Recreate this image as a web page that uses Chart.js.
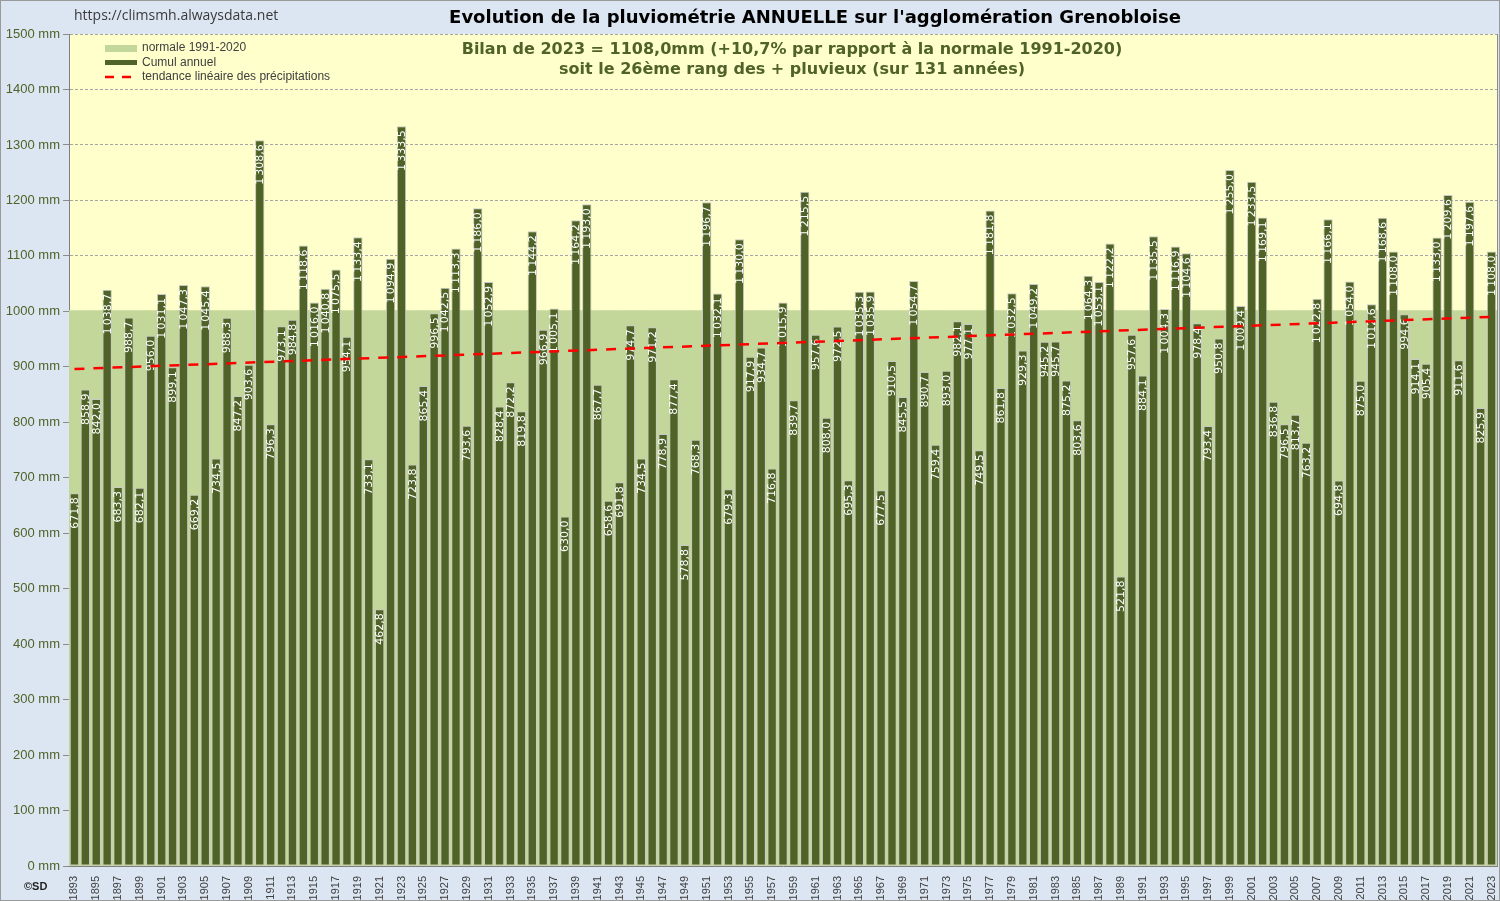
<!DOCTYPE html>
<html>
<head>
<meta charset="utf-8">
<script src="https://cdn.jsdelivr.net/npm/chart.js@4"></script>
<style>
  html, body { margin: 0; padding: 0; background: #ffffff; }
  #wrap { width: 1500px; height: 901px; }
</style>
</head>
<body>
<div id="wrap"><canvas id="myChart" width="1500" height="901"></canvas></div>
<script>
// annual rainfall at Grenoble, mm
var firstYear = 1893;
var lastYear = 2023;
var cumul = [
  671.8, 858.9, 842.0, 1038.7, 683.3, 988.7, 682.1, 956.0, 1031.1, 899.1,
  1047.3, 669.2, 1045.4, 734.5, 988.3, 847.2, 903.6, 1308.6, 796.3, 973.1,
  984.8, 1118.6, 1016.0, 1040.8, 1075.5, 954.1, 1133.4, 733.1, 462.8, 1094.9,
  1333.5, 723.8, 865.4, 996.5, 1042.5, 1113.3, 793.6, 1186.0, 1052.9, 828.4,
  872.2, 819.8, 1144.2, 966.9, 1005.1, 630.0, 1164.2, 1193.0, 867.7, 658.6,
  691.8, 974.7, 734.5, 971.2, 778.9, 877.4, 578.8, 768.3, 1196.7, 1032.1,
  679.3, 1130.0, 917.9, 934.7, 716.8, 1015.9, 839.7, 1215.5, 957.6, 808.0,
  972.5, 695.3, 1035.3, 1035.9, 677.5, 910.5, 845.5, 1054.7, 890.7, 759.4,
  893.0, 982.1, 977.1, 749.5, 1181.8, 861.8, 1032.5, 929.3, 1049.2, 945.2,
  945.7, 875.2, 803.6, 1064.3, 1053.1, 1122.2, 521.8, 957.6, 884.1, 1135.5,
  1004.3, 1116.9, 1104.6, 978.4, 793.4, 950.8, 1255.0, 1009.4, 1233.5, 1169.1,
  836.8, 796.5, 813.7, 763.2, 1022.8, 1166.1, 694.8, 1054.0, 875.0, 1012.6,
  1168.6, 1108.0, 994.6, 914.1, 905.4, 1133.0, 1209.6, 911.6, 1197.6, 825.9,
  1108.0
];
var normale = 1000.9;      // normale 1991-2020
var trendStart = 896;      // tendance en 1893
var trendEnd = 990;        // tendance en 2023
var yTicks = [0, 100, 200, 300, 400, 500, 600, 700, 800, 900, 1000, 1100, 1200, 1300, 1400, 1500];

var titleText = "Evolution de la pluviométrie ANNUELLE sur l'agglomération Grenobloise";
var siteText = "https://climsmh.alwaysdata.net";
var bilan1 = "Bilan de 2023 = 1108,0mm (+10,7% par rapport à la normale 1991-2020)";
var bilan2 = "soit le 26ème rang des + pluvieux (sur 131 années)";

var years = [];
for (var y = firstYear; y <= lastYear; y++) years.push(String(y));
var normalData = years.map(function () { return normale; });
var trendData = years.map(function (y, i) {
  if (i == 0) return trendStart;
  if (i == years.length - 1) return trendEnd;
  return null;
});

function fmt(v) {
  var s = v.toFixed(1).replace(".", ",");
  if (v >= 1000) s = s.slice(0, 1) + "\u2009" + s.slice(1);
  return s;
}

var olive = "#4F6228";
var lightGreen = "#C4D79B";

// background: blue-grey frame + yellow plot area
var bgPlugin = {
  id: "bg",
  beforeDraw: function (chart) {
    var c = chart.ctx, a = chart.chartArea;
    c.save();
    c.fillStyle = "#DCE6F2";
    c.fillRect(0, 0, chart.width, chart.height);
    c.strokeStyle = "#9A9A9A";
    c.lineWidth = 1;
    c.strokeRect(0.5, 0.5, chart.width - 1, chart.height - 1);
    c.fillStyle = "#FFFFCC";
    c.fillRect(a.left, a.top, a.right - a.left, a.bottom - a.top);
    c.restore();
  },
  afterDraw: function (chart) {
    var c = chart.ctx, a = chart.chartArea;
    c.save();
    // right frame
    c.strokeStyle = "#8C8C8C";
    c.beginPath();
    c.moveTo(a.right + 0.5, a.top);
    c.lineTo(a.right + 0.5, a.bottom);
    c.stroke();
    // header texts
    c.textBaseline = "middle";
    c.fillStyle = "#3A3A3A";
    c.font = "14px 'Open Sans'";
    c.textAlign = "left";
    c.fillText(siteText, 74, 16);
    c.fillStyle = "#000000";
    c.font = "bold 18px 'DejaVu Sans'";
    c.textAlign = "center";
    c.fillText(titleText, 815, 18);
    // bilan
    c.fillStyle = olive;
    c.font = "bold 16px 'DejaVu Sans'";
    c.fillText(bilan1, 792, 50);
    c.fillText(bilan2, 792, 70);
    // legend
    c.textAlign = "left";
    c.font = "12px 'Liberation Sans Narrow', 'Liberation Sans'";
    c.fillStyle = lightGreen;
    c.fillRect(105, 45, 32, 7);
    c.fillStyle = olive;
    c.fillRect(105, 60, 32, 5);
    c.strokeStyle = "#FF0000";
    c.lineWidth = 2.5;
    c.setLineDash([9, 8]);
    c.beginPath();
    c.moveTo(105, 77);
    c.lineTo(138, 77);
    c.stroke();
    c.setLineDash([]);
    c.fillStyle = "#404040";
    c.fillText("normale 1991-2020", 142, 48);
    c.fillText("Cumul annuel", 142, 63);
    c.fillText("tendance linéaire des précipitations", 142, 77);
    // credit
    c.font = "bold 11px 'Liberation Sans Narrow', 'Liberation Sans'";
    c.fillStyle = "#1F1F1F";
    c.fillText("©SD", 24, 887);
    c.restore();
  }
};

// vertical value labels inside the bars, under the trend line
var labelPlugin = {
  id: "barLabels",
  afterDatasetDraw: function (chart, args) {
    if (args.index != 1) return;
    var c = chart.ctx;
    c.save();
    c.fillStyle = "#FFFFFF";
    c.font = "11px 'DejaVu Sans'";
    c.textAlign = "right";
    c.textBaseline = "middle";
    args.meta.data.forEach(function (bar, i) {
      c.save();
      c.translate(bar.x + 0.5, bar.y + 4);
      c.rotate(-Math.PI / 2);
      c.fillText(fmt(cumul[i]), 0, 0);
      c.restore();
    });
    c.restore();
  }
};

var ctx = document.getElementById("myChart").getContext("2d");
var myChart = new Chart(ctx, {
  type: "bar",
  data: {
    labels: years,
    datasets: [
      {
        type: "line",
        label: "tendance linéaire des précipitations",
        data: trendData,
        borderColor: "#FF0000",
        borderWidth: 2.5,
        borderDash: [10, 9],
        pointRadius: 0,
        spanGaps: true,
        fill: false,
        order: 1
      },
      {
        label: "Cumul annuel",
        data: cumul,
        backgroundColor: olive,
        borderColor: "#C8C8C8",
        borderWidth: 1,
        borderSkipped: false,
        barPercentage: 0.86,
        categoryPercentage: 1,
        grouped: false,
        order: 2
      },
      {
        label: "normale 1991-2020",
        data: normalData,
        backgroundColor: lightGreen,
        borderWidth: 0,
        barPercentage: 1,
        categoryPercentage: 1,
        inflateAmount: 0.6,
        grouped: false,
        order: 3
      }
    ]
  },
  options: {
    responsive: false,
    animation: false,
    devicePixelRatio: 1,
    layout: { padding: { top: 34, right: 3, bottom: 0, left: 0 } },
    plugins: {
      legend: { display: false },
      title: { display: false },
      tooltip: { enabled: false }
    },
    scales: {
      x: {
        grid: { display: false },
        border: { display: true, color: "#7F7F7F" },
        ticks: {
          autoSkip: false,
          minRotation: 90,
          maxRotation: 90,
          padding: 2,
          color: "#404040",
          font: { family: "'Liberation Sans'", size: 11 },
          callback: function (v, i) { return i % 2 == 0 ? years[i] : ""; }
        },
        afterFit: function (s) {
          s.height = 35;
          s.paddingLeft = 0;
          s.paddingRight = 0;
        }
      },
      y: {
        min: 0,
        max: 1500,
        afterBuildTicks: function (s) { s.ticks = yTicks.map(function (v) { return { value: v }; }); },
        grid: { color: "#A6A6A6", tickLength: 6, tickColor: "#8C8C8C" },
        border: { display: true, color: "#7F7F7F", dash: [3, 2] },
        ticks: {
          color: olive,
          padding: 3,
          font: { family: "'Liberation Sans Narrow', 'Liberation Sans'", size: 13 },
          callback: function (v) { return v + " mm"; }
        },
        afterFit: function (s) {
          s.width = 69;
          s.paddingTop = 0;
          s.paddingBottom = 0;
        }
      }
    }
  },
  plugins: [bgPlugin, labelPlugin]
});
</script>
</body>
</html>
